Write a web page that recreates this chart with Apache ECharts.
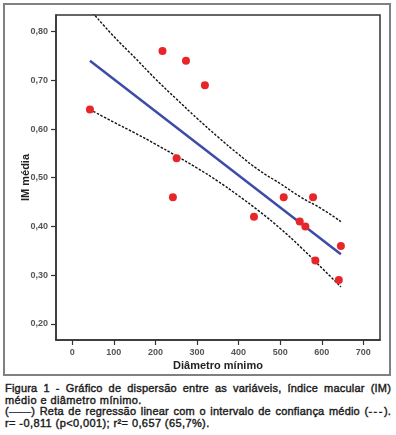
<!DOCTYPE html>
<html>
<head>
<meta charset="utf-8">
<script src="https://cdn.jsdelivr.net/npm/echarts@6/dist/echarts.min.js"></script>
<style>
  html, body { margin: 0; padding: 0; background: #fff; }
  #wrap { position: relative; width: 396px; height: 435px; }
  #chart { position: absolute; left: 0; top: 0; width: 396px; height: 378px; }
  #caption {
    position: absolute; left: 5px; top: 383px; width: 386px;
    font-family: 'Liberation Sans', Arial, sans-serif; font-size: 11px;
    line-height: 11.7px; color: #1a1a1a; -webkit-text-stroke: 0.4px #1a1a1a;
    letter-spacing: 0.4px;
  }
  #caption div { white-space: nowrap; }
  #caption .j { text-align: justify; text-align-last: justify; letter-spacing: 0.2px; }
  .dash { letter-spacing: 1.5px; }
</style>
</head>
<body>
<div id="wrap">
  <div id="chart"></div>
  <div id="caption">
    <div class="j">Figura 1 - Gráfico de dispersão entre as variáveis, índice macular (IM)</div>
    <div>médio e diâmetro mínimo.</div>
    <div class="j">(<span style="color:#3d4ba8">——</span>) Reta de regressão linear com o intervalo de confiança médio (<span class="dash">---</span>).</div>
    <div>r= -0,811 (p&lt;0,001); r²= 0,657 (65,7%).</div>
  </div>
</div>
<script>
// pontos (diâmetro mínimo, IM médio)
const diametro = [42.6, 217, 273.5, 319, 251, 242, 508.5, 579, 437, 547, 560.6, 646, 584.6, 641]
const imMedio = [0.64, 0.76, 0.74, 0.69, 0.54, 0.46, 0.46, 0.46, 0.42, 0.41, 0.40, 0.36, 0.33, 0.29]

// reta de regressão
const retaX = [42.6, 646]
const retaY = [0.74, 0.343]

// intervalo de confiança médio
const icX = [42.6, 100, 150, 200, 250, 300, 350, 400, 450, 500, 550, 600, 646]
const icSup = [0.845, 0.790, 0.747, 0.703, 0.662, 0.622, 0.584, 0.548, 0.515, 0.488, 0.460, 0.436, 0.41]
const icInf = [0.64, 0.614, 0.592, 0.569, 0.545, 0.520, 0.493, 0.463, 0.431, 0.396, 0.357, 0.315, 0.276]

const xTicks = [0, 100, 200, 300, 400, 500, 600, 700]
const yTicks = [0.2, 0.3, 0.4, 0.5, 0.6, 0.7, 0.8]

const font = "'Liberation Sans', Arial, sans-serif"
const pairs = (xs, ys) => xs.map((x, i) => [x, ys[i]])

const chart = echarts.init(document.getElementById('chart'))
chart.setOption({
  animation: false,
  graphic: [
    {
      type: 'rect',
      shape: { x: 4, y: 4, width: 386, height: 371 },
      style: { fill: 'none', stroke: '#808080', lineWidth: 2 },
      silent: true
    }
  ],
  grid: {
    show: true,
    left: 56,
    top: 15,
    right: 16,
    bottom: 38,
    borderColor: '#333',
    borderWidth: 1.5,
    backgroundColor: '#fff'
  },
  xAxis: {
    type: 'value',
    min: -39,
    max: 740,
    name: 'Diâmetro mínimo',
    nameLocation: 'middle',
    nameGap: 20,
    nameMoveOverlap: false,
    nameTextStyle: { fontFamily: font, fontSize: 11, fontWeight: 'bold', color: '#222' },
    axisLine: { show: true, onZero: false, lineStyle: { color: '#333', width: 1.5 } },
    axisTick: { show: true, length: 5, customValues: xTicks, lineStyle: { color: '#333', width: 1.2 } },
    axisLabel: {
      customValues: xTicks,
      margin: 8,
      fontFamily: font,
      fontSize: 9,
      fontWeight: 'bold',
      color: '#555'
    },
    splitLine: { show: false }
  },
  yAxis: {
    type: 'value',
    min: 0.167,
    max: 0.834,
    name: 'IM média',
    nameLocation: 'middle',
    nameRotate: 90,
    nameGap: 25,
    nameMoveOverlap: false,
    nameTextStyle: { fontFamily: font, fontSize: 11, fontWeight: 'bold', color: '#222' },
    axisLine: { show: true, onZero: false, lineStyle: { color: '#333', width: 1.5 } },
    axisTick: { show: true, length: 5, customValues: yTicks, lineStyle: { color: '#333', width: 1.2 } },
    axisLabel: {
      customValues: yTicks,
      margin: 8,
      fontFamily: font,
      fontSize: 9,
      fontWeight: 'bold',
      color: '#555',
      formatter: v => v.toFixed(2).replace('.', ',')
    },
    splitLine: { show: false }
  },
  series: [
    {
      name: 'IC superior',
      type: 'line',
      smooth: true,
      symbol: 'none',
      data: pairs(icX, icSup),
      lineStyle: { color: '#111', width: 1.4, type: [2.5, 1.5] },
      z: 2
    },
    {
      name: 'IC inferior',
      type: 'line',
      smooth: true,
      symbol: 'none',
      data: pairs(icX, icInf),
      lineStyle: { color: '#111', width: 1.4, type: [2.5, 1.5] },
      z: 2
    },
    {
      name: 'Reta de regressão',
      type: 'line',
      symbol: 'none',
      data: pairs(retaX, retaY),
      lineStyle: { color: '#3d4ba8', width: 2.5 },
      z: 3
    },
    {
      name: 'IM médio',
      type: 'scatter',
      symbolSize: 8,
      data: pairs(diametro, imMedio),
      itemStyle: { color: '#e8262a', opacity: 1 },
      z: 4
    }
  ]
})
</script>
</body>
</html>
